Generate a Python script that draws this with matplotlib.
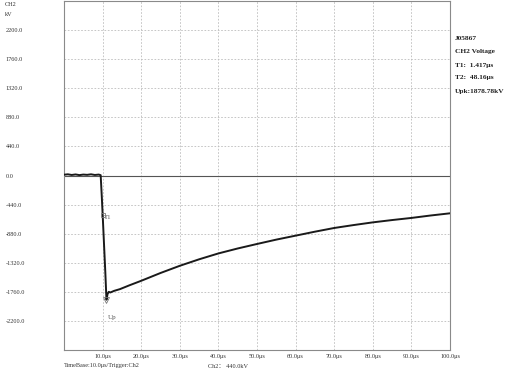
import matplotlib
matplotlib.use("Agg")
import matplotlib.pyplot as plt

# waveform (time in us, voltage in kV)
time_us = [0, 1, 2, 3, 4, 5, 6, 7, 8, 9, 9.5, 9.8, 10.1, 10.4, 10.7, 11.0,
           11.3, 11.6, 12.0, 13.0, 14.5, 17, 20, 25, 30, 35, 40, 45, 50,
           55, 60, 65, 70, 75, 80, 85, 90, 95, 100]
voltage_kv = [12, 18, 8, 16, 6, 14, 10, 18, 8, 14, 5, -330, -700, -1080, -1460, -1879,
              -1790, -1760, -1770, -1745, -1719, -1660, -1593, -1475, -1366, -1268,
              -1179, -1104, -1036, -970, -910, -850, -794, -750, -709, -674,
              -642, -605, -572]

t1_point = (10.0, -600)
up_point = (11.0, -1879)

y_ticks = [2200, 1760, 1320, 880, 440, 0, -440, -880, -1320, -1760, -2200]
y_labels = ["2200.0", "1760.0", "1320.0", "880.0", "440.0", "0.0", "-440.0",
            "-880.0", "-1320.0", "-1760.0", "-2200.0"]
x_ticks = [10, 20, 30, 40, 50, 60, 70, 80, 90, 100]
x_labels = ["10.0\u03bcs", "20.0\u03bcs", "30.0\u03bcs", "40.0\u03bcs", "50.0\u03bcs",
            "60.0\u03bcs", "70.0\u03bcs", "80.0\u03bcs", "90.0\u03bcs", "100.0\u03bcs"]
info_lines = ["J05867", "CH2 Voltage", "T1:  1.417\u03bcs", "T2:  48.16\u03bcs",
              "Upk:1878.78kV"]

plt.rcParams["font.family"] = ["Liberation Serif", "DejaVu Serif"]

fig = plt.figure(figsize=(5.06, 3.79), dpi=100)
ax = fig.add_axes([64 / 506, 1 - 350 / 379, 386 / 506, 349 / 379])

ax.set_xlim(0, 100)
ax.set_ylim(-2640, 2640)

# grid: dashed light grey every 10us / 440kV
for x in x_ticks[:-1]:
    ax.axvline(x, color="#bdbdbd", lw=0.6, ls=(0, (2, 2)), zorder=1)
for y in y_ticks + [2640, -2640]:
    if y != 0:
        ax.axhline(y, color="#bdbdbd", lw=0.6, ls=(0, (2, 2)), zorder=1)
ax.axhline(0, color="#555555", lw=0.8, zorder=2)

ax.plot(time_us, voltage_kv, color="#1a1a1a", lw=1.4, zorder=3)
ax.plot(*t1_point, marker="s", ms=3, mfc="none", mec="#777777", mew=0.6, zorder=4)
ax.plot(*up_point, marker="v", ms=4, mfc="none", mec="#777777", mew=0.6, zorder=4)
ax.text(10.3, -640, "T1", fontsize=5, color="#555555", va="center")
ax.text(11.4, -2150, "Up", fontsize=5, color="#555555", va="center")

ax.set_yticks(y_ticks)
ax.set_yticklabels(y_labels)
ax.tick_params(axis="y", length=0, pad=42, labelsize=4.5, labelcolor="#333333")
for lab in ax.get_yticklabels():
    lab.set_horizontalalignment("left")
ax.set_xticks(x_ticks)
ax.set_xticklabels(x_labels)
ax.tick_params(axis="x", length=0, pad=3, labelsize=4.5, labelcolor="#333333")

for s in ax.spines.values():
    s.set_color("#8a8a8a")
    s.set_linewidth(0.8)

fig.text(5 / 506, 1 - 5 / 379, "CH2", fontsize=4.5, color="#333333", va="center")
fig.text(5 / 506, 1 - 15 / 379, "kV", fontsize=4.5, color="#333333", va="center")

for i, line in enumerate(info_lines):
    fig.text(455 / 506, 1 - (39 + 13 * i) / 379, line, fontsize=5.3,
             fontweight="bold", color="#222222", va="center")

fig.text(64 / 506, 1 - 366 / 379, "TimeBase:10.0\u03bcs/Trigger:Ch2", fontsize=4.5,
         color="#333333", va="center")
fig.text(208 / 506, 1 - 366 / 379, "Ch2\uff1a 440.0kV", fontsize=4.5,
         color="#333333", va="center", family=["Liberation Serif", "Noto Sans CJK SC"])

fig.savefig("out.png", dpi=100)
